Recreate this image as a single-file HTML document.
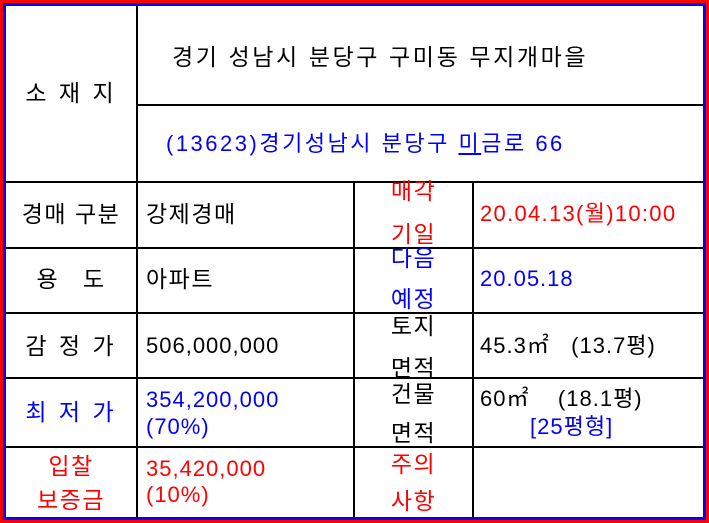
<!DOCTYPE html>
<html><head><meta charset="utf-8"><style>
html,body{margin:0;padding:0;background:#fff;}
#w{position:relative;width:709px;height:523px;overflow:hidden;background:#fff;font-family:"Liberation Sans","Noto Sans CJK KR","NanumGothic",sans-serif;font-size:23px;color:#000;letter-spacing:1.5px;}
.b{position:absolute;}
.h{position:absolute;height:2px;background:#000;}
.v{position:absolute;width:2px;background:#000;}
.t{position:absolute;line-height:24px;white-space:pre;}
.c{text-align:center;}
.n{letter-spacing:1px;font-size:22px;}
.r{color:#f00;}.u{color:#00f;}
</style></head><body><div id="w">
<div class="b" style="left:0;top:0;width:709px;height:523px;background:#f00;"></div>
<div class="b" style="left:3px;top:3px;width:703px;height:517px;background:#00f;"></div>
<div class="b" style="left:6px;top:6px;width:697px;height:511px;background:#fff;"></div>

<div class="v" style="left:136px;top:6px;height:511px;"></div>
<div class="v" style="left:353px;top:182px;height:335px;"></div>
<div class="v" style="left:472px;top:182px;height:335px;"></div>
<div class="h" style="left:136px;top:104px;width:567px;"></div>
<div class="h" style="left:6px;top:181px;width:697px;"></div>
<div class="h" style="left:6px;top:247px;width:697px;"></div>
<div class="h" style="left:6px;top:312px;width:697px;"></div>
<div class="h" style="left:6px;top:377px;width:697px;"></div>
<div class="h" style="left:6px;top:446px;width:697px;"></div>

<div class="t c" style="left:6px;width:130px;top:81px;letter-spacing:3px;">소 재 지</div>
<div class="t" style="left:172px;top:45px;letter-spacing:2.6px;">경기 성남시 분당구 구미동 무지개마을</div>
<div class="t u n" style="left:166px;top:132px;letter-spacing:2.5px;">(13623)경기성남시 분당구 <span style="text-decoration:underline">미</span>금로 66</div>

<div class="t c" style="left:6px;width:130px;top:202px;">경매 구분</div>
<div class="t" style="left:146px;top:202px;">강제경매</div>
<div class="t c r" style="left:355px;width:117px;top:179px;">매각</div>
<div class="t c r" style="left:355px;width:117px;top:222px;">기일</div>
<div class="t r n" style="left:480px;top:202px;letter-spacing:1.3px;">20.04.13(월)10:00</div>

<div class="t c" style="left:6px;width:130px;top:267px;">용&nbsp;&nbsp;&nbsp;도</div>
<div class="t" style="left:146px;top:267px;">아파트</div>
<div class="t c u" style="left:355px;width:117px;top:246px;">다음</div>
<div class="t c u" style="left:355px;width:117px;top:287px;">예정</div>
<div class="t u n" style="left:480px;top:267px;">20.05.18</div>

<div class="t c" style="left:6px;width:130px;top:334px;letter-spacing:3px;">감 정 가</div>
<div class="t n" style="left:146px;top:334px;">506,000,000</div>
<div class="t c" style="left:355px;width:117px;top:314px;">토지</div>
<div class="t c" style="left:355px;width:117px;top:356px;">면적</div>
<div class="t n" style="left:480px;top:334px;">45.3㎡&nbsp;&nbsp;&nbsp;(13.7평)</div>

<div class="t c u" style="left:6px;width:130px;top:400px;letter-spacing:3px;">최 저 가</div>
<div class="t u n" style="left:146px;top:388px;">354,200,000</div>
<div class="t u n" style="left:146px;top:415px;">(70%)</div>
<div class="t c" style="left:355px;width:117px;top:382px;">건물</div>
<div class="t c" style="left:355px;width:117px;top:421px;">면적</div>
<div class="t n" style="left:480px;top:387px;">60㎡&nbsp;&nbsp;&nbsp;&nbsp;(18.1평)</div>
<div class="t u n" style="left:530px;top:415px;">[25평형]</div>

<div class="t c r" style="left:6px;width:130px;top:454px;">입찰</div>
<div class="t c r" style="left:6px;width:130px;top:488px;">보증금</div>
<div class="t r n" style="left:146px;top:457px;">35,420,000</div>
<div class="t r n" style="left:146px;top:483px;">(10%)</div>
<div class="t c r" style="left:355px;width:117px;top:452px;">주의</div>
<div class="t c r" style="left:355px;width:117px;top:489px;">사항</div>
</div></body></html>
